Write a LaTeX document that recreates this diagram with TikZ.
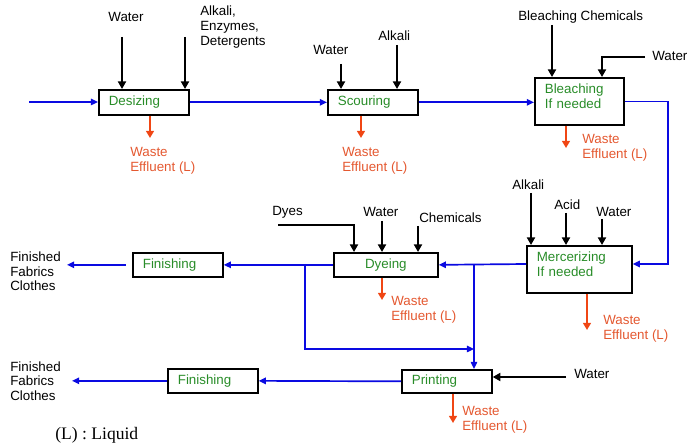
\documentclass[tikz,border=0pt]{standalone}
\usepackage{fontspec}
\setmainfont{Liberation Sans}
\newfontfamily\notefont{Liberation Serif}
\usetikzlibrary{arrows.meta,positioning}
\definecolor{flowblue}{RGB}{10,10,225}
\definecolor{stepgreen}{RGB}{40,140,40}
\definecolor{wastered}{RGB}{240,70,20}
\definecolor{wastetext}{RGB}{228,88,48}
\newcommand{\lowpad}{\rule[-0.26cm]{0pt}{0.26cm}}

\begin{document}
\begin{tikzpicture}[x=0.025cm,y=-0.025cm,
    font=\fontsize{9.5}{10.4}\selectfont,
    procbox/.style={draw,line width=1.2pt,text=stepgreen,align=left,
      inner xsep=0.25cm,inner ysep=0pt,anchor=north west},
    lbl/.style={inner sep=0pt,align=left,anchor=west},
    wastelbl/.style={lbl,text=wastetext},
    flow/.style={flowblue,line width=1.2pt,-{Triangle[length=0.18cm,width=0.16cm]}},
    feed/.style={black,line width=1.3pt,-{Triangle[length=0.19cm,width=0.2cm]}},
    waste/.style={wastered,line width=1.1pt,-{Triangle[length=0.18cm,width=0.2cm]}}]
    \useasboundingbox (0,0) rectangle (687,445);

    % process steps
    \node[procbox,text width=1.75cm,minimum height=0.625cm] (desizing) at (98,89) {Desizing};
    \node[procbox,text width=1.75cm,minimum height=0.625cm] (scouring) at (327,89) {Scouring};
    \node[procbox,text width=1.725cm,minimum height=1.175cm] (bleaching) at (534,77) {Bleaching\\If needed\lowpad};
    \node[procbox,text width=2.125cm,minimum height=1.175cm] (mercerizing) at (526,245) {Mercerizing\\If needed\lowpad};
    \node[procbox,text width=2.1cm,minimum height=0.6cm,align=center] (dyeing) at (333,252) {Dyeing};
    \node[procbox,text width=1.75cm,minimum height=0.6cm] (finishA) at (132,252) {Finishing};
    \node[procbox,text width=1.75cm,minimum height=0.575cm] (printing) at (401,369) {Printing};
    \node[procbox,text width=1.75cm,minimum height=0.6cm] (finishB) at (167,368) {Finishing};

    % inputs
    \node[inner sep=0pt] (desWater) at (126,17) {Water};
    \node[lbl] (desAlkali) at (200,27) {Alkali,\\Enzymes,\\Detergents};
    \node[lbl] (scWater) at (313,50) {Water};
    \node[lbl] (scAlkali) at (378,36) {Alkali};
    \node[lbl] (blChem) at (518,17) {Bleaching Chemicals};
    \node[lbl] (blWater) at (652,56) {Water};
    \node[lbl] (meAlkali) at (512,185) {Alkali};
    \node[lbl] (meAcid) at (554,205) {Acid};
    \node[lbl] (meWater) at (596,212) {Water};
    \node[lbl] (dyDyes) at (272,212) {Dyes};
    \node[lbl] (dyWater) at (363,212) {Water};
    \node[lbl] (dyChem) at (419,218) {Chemicals};
    \node[lbl] (prWater) at (574,374) {Water};

    \coordinate (c1) at (122,37);
    \coordinate (c2) at (185,37);
    \coordinate (c3) at (341,64);
    \coordinate (c4) at (397,45);
    \coordinate (c5) at (552,25);
    \coordinate (c6) at (645,57);
    \coordinate (c7) at (602,57);
    \coordinate (c8) at (531,193);
    \coordinate (c9) at (566,213);
    \coordinate (c10) at (602,219);
    \coordinate (c11) at (278,225);
    \coordinate (c12) at (354,225);
    \coordinate (c13) at (382,221);
    \coordinate (c14) at (418,226);
    \coordinate (c15) at (566,377);
    \foreach \c/\b in {c1/desizing,c2/desizing,c3/scouring,c4/scouring,c5/bleaching,
        c8/mercerizing,c9/mercerizing,c10/mercerizing,c13/dyeing,c14/dyeing}
      \draw[feed] (\c) -- (\c |- \b.north);
    \draw[feed] (c6) -- (c7) -- (c7 |- bleaching.north);
    \draw[feed] (c11) -- (c12) -- (c12 |- dyeing.north);
    \draw[feed] (c15) -- (c15 -| printing.east);

    % waste effluent
    \node[wastelbl] (wDes) at (130,160.5) {Waste\\Effluent (L)};
    \node[wastelbl] (wSc) at (342,160.5) {Waste\\Effluent (L)};
    \node[wastelbl] (wBl) at (582,147.5) {Waste\\Effluent (L)};
    \node[wastelbl] (wMe) at (603,329) {Waste\\Effluent (L)};
    \node[wastelbl] (wDy) at (391,309.5) {Waste\\Effluent (L)};
    \node[wastelbl] (wPr) at (462,419.5) {Waste\\Effluent (L)};
    \coordinate (w1) at (150,138);
    \coordinate (w2) at (361,138);
    \coordinate (w3) at (566,148);
    \coordinate (w4) at (587,330);
    \coordinate (w5) at (382,300);
    \coordinate (w6) at (453,423);
    \foreach \w/\b in {w1/desizing,w2/scouring,w3/bleaching,w4/mercerizing,w5/dyeing,w6/printing}
      \draw[waste] (\w |- \b.south) -- (\w);

    % main flow
    \coordinate (start) at (29,102);
    \coordinate (turnR) at (668,264);
    \coordinate (brA) at (474,264);
    \coordinate (brB) at (305,264);
    \coordinate (join) at (474,349);
    \draw[flow] (start) -- (start -| desizing.west);
    \draw[flow] (desizing.east) -- (scouring.west);
    \draw[flow] (scouring.east) -- (scouring.east -| bleaching.west);
    \draw[flow] (bleaching.east) -| (turnR) -- (turnR -| mercerizing.east);
    \draw[flow] (mercerizing.west |- turnR) -- (dyeing.east);
    \draw[flow] (brA) -- (brA |- printing.north);
    \draw[flow] (dyeing.west) -- (finishA.east);
    \draw[flow] (brB) |- (join);
    \draw[flow] (printing.west) -- (finishB.east);

    % products
    \node[lbl] (outA) at (10,271.5) {Finished\\Fabrics\\Clothes};
    \node[lbl] (outB) at (10,381) {Finished\\Fabrics\\Clothes};
    \draw[flow,shorten <=0.15cm] (finishA.west) -- (finishA.west -| 67,0);
    \draw[flow] (finishB.west) -- (finishB.west -| 72,0);

    \node[lbl,font=\notefont\fontsize{12.5}{14}\selectfont] (note) at (55,435) {(L) : Liquid};
\end{tikzpicture}
\end{document}
